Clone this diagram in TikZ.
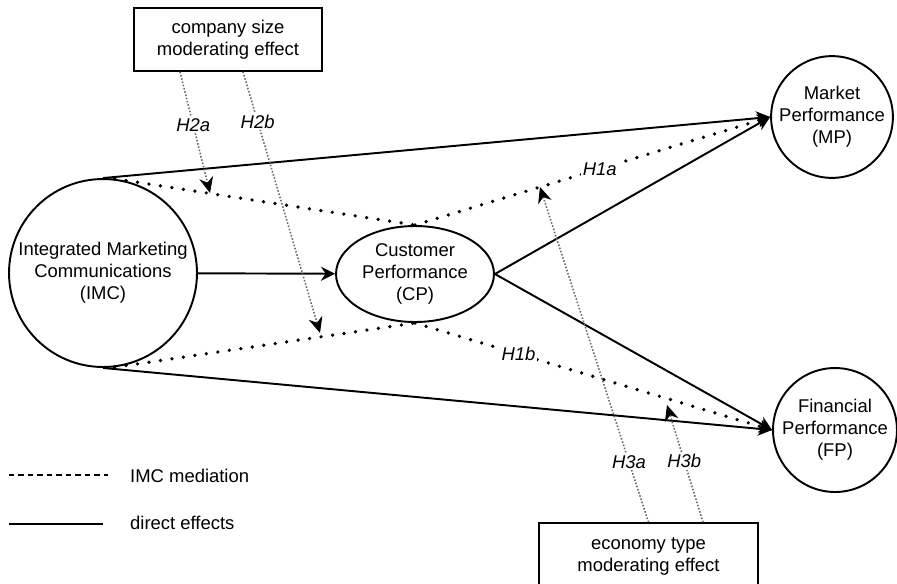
\documentclass[tikz,border=0pt]{standalone}
\usepackage{fontspec}
\setmainfont{Liberation Sans}
\usetikzlibrary{arrows.meta,shapes.geometric}

\tikzstyle{lbl}=[font=\fontsize{10.5}{12.5}\selectfont]
\tikzstyle{construct}=[lbl,draw,line width=1.1pt,circle,inner sep=0pt,align=center]
\tikzstyle{moderator}=[lbl,draw,line width=0.9pt,rectangle,align=center]
\tikzstyle{direct}=[line width=1.1pt,-{Stealth[length=8pt,width=8pt]}]
\tikzstyle{mediation}=[line width=2.1pt,line cap=round,dash pattern=on 0pt off 6.6pt]
\tikzstyle{medarrow}=[mediation,-{Stealth[length=8pt,width=8pt,line width=0.5pt,round=false]}]
\tikzstyle{modline}=[draw=gray!85!black,line width=0.9pt,densely dotted,-{Stealth[length=9pt,width=8pt,black,line width=0.5pt]}]
\tikzstyle{hyp}=[lbl,font=\fontsize{10.5}{12.5}\selectfont\itshape,fill=white,inner sep=1pt]
\def\px{0.02cm}

\begin{document}
\begin{tikzpicture}[x=\px,y=-\px]
	\useasboundingbox (0,0) rectangle (897,583);
	% constructs
	\node[construct,minimum size=3.76cm] (imc) at (103,273) {Integrated Marketing\\Communications\\(IMC)};
	\node[construct,ellipse,minimum width=3.16cm,minimum height=1.92cm] (cp) at (415,274) {Customer\\Performance\\(CP)};
	\node[construct,minimum size=2.4cm] (mp) at (832,117) {Market\\Performance\\(MP)};
	\node[construct,minimum size=2.48cm] (fp) at (835,430) {Financial\\Performance\\(FP)};
	% moderators
	\node[moderator,minimum width=3.76cm,minimum height=1.26cm] (size) at (228,39.5) {company size\\moderating effect};
	\node[moderator,minimum width=4.38cm,minimum height=1.32cm] (economy) at (648.5,556) {economy type\\moderating effect};

	% direct effects
	\draw[direct] (imc) -- (cp);
	\draw[direct] (imc.north) -- (mp.west);
	\draw[direct] (imc.south) -- (fp.west);
	\draw[direct] (cp.east) -- (mp.west);
	\draw[direct] (cp.east) -- (fp.west);

	% mediation
	\draw[mediation] (imc.83) -- (cp.north);
	\draw[medarrow] (cp.north) -- (mp.west) node[hyp,pos=0.52]{H1a};
	\draw[mediation] (imc.-83) -- (cp.south);
	\draw[medarrow] (cp.south) -- (fp.west) node[hyp,pos=0.29]{H1b};

	% moderating effects
	\coordinate (h2a) at (210,193);
	\coordinate (h2b) at (320,333);
	\coordinate (h3a) at (540,187);
	\coordinate (h3b) at (667,405);
	\draw[modline] ([xshift=-0.96cm]size.south) -- (h2a) node[hyp,pos=0.44]{H2a};
	\draw[modline] ([xshift=0.3cm]size.south) -- (h2b) node[hyp,pos=0.19]{H2b};
	\draw[modline] (economy.north) -- (h3a) node[hyp,pos=0.18]{H3a};
	\draw[modline] ([xshift=1.09cm]economy.north) -- (h3b) node[hyp,pos=0.52]{H3b};

	% legend
	\node[lbl,anchor=west] (legmed) at (124,476) {IMC mediation};
	\node[lbl,anchor=west] (legdir) at (124,523) {direct effects};
	\coordinate (legmedstart) at (9,475);
	\coordinate (legmedend) at (108,475);
	\coordinate (legdirstart) at (9,524);
	\coordinate (legdirend) at (103,524);
	\draw[line width=0.8pt,dash pattern=on 3pt off 2.4pt] (legmedstart) -- (legmedend);
	\draw[line width=1.1pt] (legdirstart) -- (legdirend);
\end{tikzpicture}
\end{document}
